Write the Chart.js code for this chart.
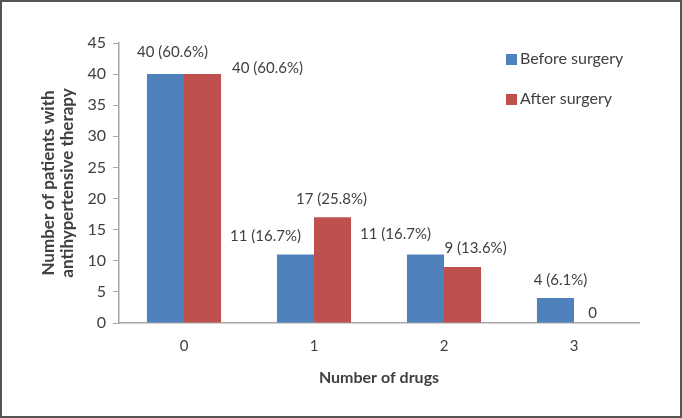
<!DOCTYPE html>
<html>
<head>
<meta charset="utf-8">
<script src="https://cdn.jsdelivr.net/npm/chart.js@4/dist/chart.umd.min.js"></script>
<style>
  html, body { margin: 0; padding: 0; background: #fff; }
  #wrap { position: relative; width: 682px; height: 418px; box-sizing: border-box; border: 2px solid #555; }
  canvas { position: absolute; left: -2px; top: -2px; }
</style>
</head>
<body>
<div id="wrap"><canvas id="canvas" width="682" height="418"></canvas></div>
<script>
// chart data
const categories = ['0', '1', '2', '3'];
const seriesNames = ['Before surgery', 'After surgery'];
const beforeSurgery = [40, 11, 11, 4];
const afterSurgery = [40, 17, 9, 0];
const beforeLabels = ['40 (60.6%)', '11 (16.7%)', '11 (16.7%)', '4 (6.1%)'];
const afterLabels = ['40 (60.6%)', '17 (25.8%)', '9 (13.6%)', '0'];
const yTicks = [0, 5, 10, 15, 20, 25, 30, 35, 40, 45];

// where each value label sits, relative to the top centre of its bar (px)
const labelShift = [
  [[7, -22], [-30, -18], [-30, -20], [5, -18]],
  [[65, -6], [-1, -18], [13, -19], [0, -10]]
];

const textColor = '#404040';
const axisColor = '#a6a6a6';
const fontFamily = 'Lato, "Open Sans", sans-serif';

// draws the value labels and the legend in the corner
const extras = {
  id: 'extras',
  afterDatasetsDraw(chart) {
    const ctx = chart.ctx;
    ctx.save();
    ctx.font = '15px ' + fontFamily;
    ctx.fillStyle = textColor;
    ctx.textAlign = 'center';
    ctx.textBaseline = 'middle';
    chart.data.datasets.forEach((ds, d) => {
      chart.getDatasetMeta(d).data.forEach((bar, i) => {
        const s = labelShift[d][i];
        ctx.fillText(ds.valueLabels[i], bar.x + s[0], bar.y + s[1]);
      });
    });

    // legend
    const lx = chart.chartArea.right - 133;
    let ly = chart.chartArea.top + 16;
    ctx.textAlign = 'left';
    ctx.font = '16px ' + fontFamily;
    chart.data.datasets.forEach((ds) => {
      ctx.fillStyle = ds.backgroundColor;
      ctx.fillRect(lx, ly - 5, 11, 11);
      ctx.fillStyle = textColor;
      ctx.fillText(ds.label, lx + 14, ly);
      ly += 40;
    });
    ctx.restore();
  }
};

const ctx = document.getElementById('canvas').getContext('2d');
const myChart = new Chart(ctx, {
  type: 'bar',
  data: {
    labels: categories,
    datasets: [
      { label: seriesNames[0], data: beforeSurgery, valueLabels: beforeLabels, backgroundColor: '#4f81bd' },
      { label: seriesNames[1], data: afterSurgery, valueLabels: afterLabels, backgroundColor: '#c0504d' }
    ]
  },
  options: {
    responsive: false,
    animation: false,
    events: [],
    datasets: { bar: { categoryPercentage: 0.57, barPercentage: 1.0 } },
    layout: { padding: { left: 39, right: 43, top: 43, bottom: 27 } },
    plugins: { legend: { display: false }, tooltip: { enabled: false } },
    scales: {
      x: {
        grid: { display: false },
        border: { color: axisColor, width: 1.5 },
        ticks: { color: textColor, font: { family: fontFamily, size: 15 }, padding: 6 },
        title: {
          display: true, text: 'Number of drugs', color: textColor,
          font: { family: fontFamily, size: 16, weight: 'bold' }, padding: { top: 10 }
        },
        afterFit(s) { s.height = 68; }
      },
      y: {
        min: 0, max: 45,
        afterBuildTicks(s) { s.ticks = yTicks.map(v => ({ value: v })); },
        grid: { drawOnChartArea: false, drawTicks: true, tickLength: 6, color: axisColor },
        border: { color: axisColor, width: 1.5 },
        ticks: { color: textColor, font: { family: fontFamily, size: 16 }, padding: 7 },
        title: {
          display: true, text: ['Number of patients with', 'antihypertensive therapy'], color: textColor,
          font: { family: fontFamily, size: 17, weight: 'bold', lineHeight: 1.1 }, padding: 0
        },
        afterFit(s) { s.width = 80; }
      }
    }
  },
  plugins: [extras]
});
</script>
</body>
</html>
